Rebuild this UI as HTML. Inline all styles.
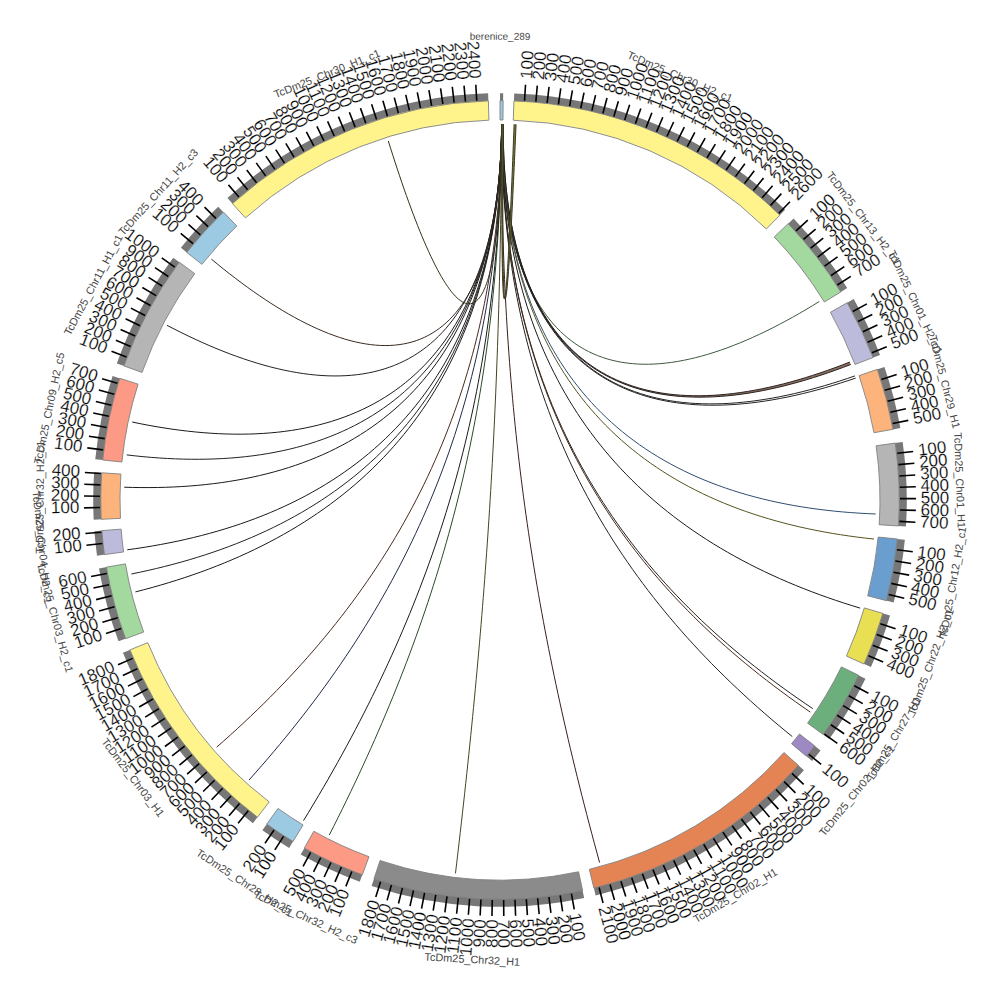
<!DOCTYPE html><html><head><meta charset="utf-8"><style>html,body{margin:0;padding:0;background:#fff;width:1000px;height:1000px;overflow:hidden}svg{display:block}text{font-family:"Liberation Sans",sans-serif}</style></head><body>
<svg width="1000" height="1000" viewBox="0 0 1000 1000">
<rect width="1000" height="1000" fill="#fff"/>
<g fill="none" stroke-width="1.0"><path d="M501.64 124 501.65 131.84 501.75 139.63 501.94 147.36 502.22 155.03 502.6 162.64 503.07 170.17 503.64 177.63 504.32 185 505.09 192.28 505.97 199.47 506.95 206.55 508.04 213.53 509.24 220.39 510.54 227.14 511.96 233.77 513.48 240.27 515.12 246.64 516.86 252.88 518.73 258.97 520.7 264.93 522.79 270.74 524.99 276.4 527.31 281.9 529.74 287.25 532.29 292.43 534.95 297.46 537.73 302.31 540.62 307 543.63 311.51 546.76 315.85 550 320.02 553.35 324 556.82 327.81 560.4 331.43 564.09 334.87 567.9 338.12 571.82 341.18 575.84 344.06 579.98 346.75 584.22 349.24 588.57 351.55 593.03 353.66 597.59 355.58 602.25 357.31 607.01 358.84 611.88 360.19 616.84 361.34 621.9 362.3 627.05 363.06 632.29 363.64 637.63 364.02 643.05 364.22 648.56 364.23 654.15 364.05 659.82 363.68 665.58 363.13 671.4 362.4 677.31 361.49 683.28 360.4 689.32 359.13 695.43 357.69 701.59 356.08 707.82 354.3 714.1 352.35 720.44 350.24 726.83 347.97 733.26 345.54 739.73 342.96 746.24 340.23 752.79 337.35 759.37 334.33 765.97 331.17 772.6 327.88 779.25 324.46 785.91 320.92 792.59 317.25 799.27 313.47 805.96 309.57 812.64 305.57 819.32 301.47" stroke="#3d5a3d"/><path d="M501.64 124 501.65 131.99 501.76 139.94 501.97 147.84 502.29 155.69 502.7 163.48 503.23 171.21 503.86 178.87 504.59 186.46 505.44 193.97 506.41 201.4 507.48 208.74 508.68 215.99 509.98 223.14 511.41 230.19 512.96 237.14 514.62 243.97 516.41 250.69 518.32 257.3 520.35 263.78 522.5 270.14 524.78 276.37 527.19 282.47 529.71 288.44 532.37 294.27 535.14 299.96 538.05 305.5 541.08 310.9 544.23 316.15 547.51 321.25 550.92 326.19 554.45 330.99 558.11 335.62 561.89 340.09 565.79 344.4 569.82 348.55 573.96 352.54 578.23 356.36 582.63 360.01 587.14 363.49 591.76 366.81 596.51 369.95 601.37 372.92 606.35 375.73 611.44 378.35 616.64 380.81 621.95 383.1 627.37 385.21 632.9 387.14 638.53 388.91 644.26 390.5 650.1 391.92 656.03 393.17 662.06 394.25 668.18 395.16 674.4 395.9 680.7 396.47 687.09 396.87 693.57 397.1 700.13 397.18 706.76 397.09 713.47 396.83 720.25 396.42 727.1 395.85 734.02 395.13 741 394.25 748.04 393.22 755.14 392.04 762.29 390.72 769.48 389.25 776.73 387.64 784.01 385.89 791.33 384.01 798.68 382 806.07 379.86 813.48 377.59 820.91 375.2 828.35 372.7 835.81 370.08 843.27 367.35 850.74 364.52 849.79 362.07 842.35 364.96 834.91 367.73 827.48 370.4 820.07 372.95 812.67 375.39 805.29 377.7 797.93 379.9 790.61 381.96 783.31 383.89 776.06 385.68 768.84 387.34 761.67 388.86 754.55 390.23 747.49 391.46 740.48 392.54 733.52 393.46 726.63 394.23 719.81 394.85 713.06 395.31 706.38 395.61 699.77 395.74 693.24 395.72 686.8 395.52 680.43 395.16 674.16 394.64 667.97 393.94 661.88 393.07 655.88 392.04 649.98 390.83 644.17 389.45 638.47 387.89 632.87 386.17 627.37 384.27 621.98 382.19 616.7 379.94 611.53 377.52 606.48 374.93 601.53 372.16 596.7 369.22 591.99 366.11 587.39 362.82 582.92 359.37 578.56 355.75 574.32 351.96 570.21 348 566.21 343.88 562.34 339.59 558.6 335.14 554.98 330.53 551.48 325.77 548.11 320.85 544.86 315.77 541.74 310.54 538.75 305.16 535.88 299.64 533.14 293.97 530.52 288.16 528.03 282.21 525.66 276.13 523.42 269.91 521.3 263.57 519.31 257.1 517.44 250.51 515.69 243.8 514.06 236.98 512.55 230.05 511.16 223.01 509.88 215.87 508.73 208.64 507.69 201.31 506.76 193.89 505.95 186.39 505.25 178.81 504.65 171.16 504.17 163.44 503.79 155.66 503.51 147.82 503.33 139.93 503.26 131.99 503.28 124.01Z" fill="#8a7060" stroke="none"/><path d="M501.64 124 501.65 131.99 501.76 139.94 501.97 147.84 502.29 155.69 502.7 163.48 503.23 171.21 503.86 178.87 504.59 186.46 505.44 193.97 506.41 201.4 507.48 208.74 508.68 215.99 509.98 223.14 511.41 230.19 512.96 237.14 514.62 243.97 516.41 250.69 518.32 257.3 520.35 263.78 522.5 270.14 524.78 276.37 527.19 282.47 529.71 288.44 532.37 294.27 535.14 299.96 538.05 305.5 541.08 310.9 544.23 316.15 547.51 321.25 550.92 326.19 554.45 330.99 558.11 335.62 561.89 340.09 565.79 344.4 569.82 348.55 573.96 352.54 578.23 356.36 582.63 360.01 587.14 363.49 591.76 366.81 596.51 369.95 601.37 372.92 606.35 375.73 611.44 378.35 616.64 380.81 621.95 383.1 627.37 385.21 632.9 387.14 638.53 388.91 644.26 390.5 650.1 391.92 656.03 393.17 662.06 394.25 668.18 395.16 674.4 395.9 680.7 396.47 687.09 396.87 693.57 397.1 700.13 397.18 706.76 397.09 713.47 396.83 720.25 396.42 727.1 395.85 734.02 395.13 741 394.25 748.04 393.22 755.14 392.04 762.29 390.72 769.48 389.25 776.73 387.64 784.01 385.89 791.33 384.01 798.68 382 806.07 379.86 813.48 377.59 820.91 375.2 828.35 372.7 835.81 370.08 843.27 367.35 850.74 364.52" stroke="#2a2220"/><path d="M503.28 124.01 503.26 131.99 503.33 139.93 503.51 147.82 503.79 155.66 504.17 163.44 504.65 171.16 505.25 178.81 505.95 186.39 506.76 193.89 507.69 201.31 508.73 208.64 509.88 215.87 511.16 223.01 512.55 230.05 514.06 236.98 515.69 243.8 517.44 250.51 519.31 257.1 521.3 263.57 523.42 269.91 525.66 276.13 528.03 282.21 530.52 288.16 533.14 293.97 535.88 299.64 538.75 305.16 541.74 310.54 544.86 315.77 548.11 320.85 551.48 325.77 554.98 330.53 558.6 335.14 562.34 339.59 566.21 343.88 570.21 348 574.32 351.96 578.56 355.75 582.92 359.37 587.39 362.82 591.99 366.11 596.7 369.22 601.53 372.16 606.48 374.93 611.53 377.52 616.7 379.94 621.98 382.19 627.37 384.27 632.87 386.17 638.47 387.89 644.17 389.45 649.98 390.83 655.88 392.04 661.88 393.07 667.97 393.94 674.16 394.64 680.43 395.16 686.8 395.52 693.24 395.72 699.77 395.74 706.38 395.61 713.06 395.31 719.81 394.85 726.63 394.23 733.52 393.46 740.48 392.54 747.49 391.46 754.55 390.23 761.67 388.86 768.84 387.34 776.06 385.68 783.31 383.89 790.61 381.96 797.93 379.9 805.29 377.7 812.67 375.39 820.07 372.95 827.48 370.4 834.91 367.73 842.35 364.96 849.79 362.07" stroke="#2a2220"/><path d="M501.64 124 501.65 132.03 501.77 140.01 501.98 147.95 502.3 155.84 502.72 163.67 503.25 171.44 503.89 179.15 504.64 186.78 505.5 194.34 506.47 201.82 507.56 209.22 508.77 216.53 510.1 223.74 511.54 230.85 513.11 237.87 514.8 244.77 516.61 251.57 518.54 258.26 520.59 264.82 522.78 271.27 525.08 277.59 527.52 283.78 530.08 289.85 532.76 295.78 535.57 301.57 538.51 307.23 541.58 312.74 544.77 318.11 548.1 323.34 551.54 328.41 555.12 333.34 558.82 338.11 562.64 342.72 566.6 347.18 570.67 351.48 574.87 355.62 579.19 359.6 583.64 363.42 588.21 367.07 592.89 370.56 597.7 373.88 602.62 377.04 607.66 380.03 612.81 382.85 618.08 385.5 623.46 387.99 628.95 390.3 634.55 392.45 640.25 394.43 646.06 396.24 651.97 397.88 657.98 399.36 664.09 400.66 670.3 401.8 676.6 402.78 682.99 403.59 689.47 404.23 696.03 404.72 702.68 405.04 709.4 405.2 716.21 405.2 723.09 405.05 730.04 404.74 737.06 404.28 744.14 403.67 751.29 402.91 758.49 402 765.75 400.94 773.06 399.75 780.41 398.42 787.81 396.95 795.25 395.34 802.72 393.61 810.23 391.74 817.76 389.76 825.32 387.65 832.89 385.43 840.48 383.09 848.08 380.64 855.69 378.08" stroke="#222"/><path d="M503.28 124.01 503.26 132.03 503.34 140 503.52 147.93 503.8 155.81 504.18 163.63 504.68 171.4 505.28 179.09 505.99 186.72 506.82 194.27 507.76 201.74 508.81 209.12 509.98 216.42 511.27 223.62 512.68 230.72 514.21 237.73 515.86 244.62 517.64 251.4 519.54 258.08 521.56 264.63 523.7 271.06 525.98 277.37 528.37 283.55 530.9 289.6 533.55 295.51 536.33 301.29 539.24 306.93 542.27 312.42 545.43 317.77 548.72 322.98 552.13 328.03 555.67 332.93 559.34 337.68 563.14 342.28 567.06 346.71 571.1 350.99 575.27 355.1 579.56 359.06 583.97 362.85 588.51 366.48 593.17 369.94 597.94 373.23 602.84 376.36 607.85 379.32 612.97 382.11 618.21 384.73 623.56 387.19 629.02 389.47 634.59 391.58 640.27 393.53 646.05 395.31 651.93 396.91 657.92 398.35 664 399.62 670.18 400.73 676.45 401.66 682.82 402.43 689.27 403.04 695.81 403.49 702.43 403.77 709.14 403.89 715.92 403.85 722.77 403.66 729.7 403.31 736.69 402.81 743.75 402.15 750.87 401.35 758.05 400.39 765.29 399.3 772.57 398.06 779.9 396.68 787.28 395.17 794.69 393.52 802.14 391.74 809.62 389.84 817.13 387.81 824.66 385.65 832.22 383.39 839.78 381 847.35 378.51 854.93 375.91" stroke="#222"/><path d="M501.64 124 501.66 132.4 501.77 140.76 502 149.09 502.33 157.39 502.78 165.65 503.33 173.87 504 182.04 504.79 190.16 505.69 198.23 506.71 206.25 507.84 214.2 509.1 222.1 510.48 229.93 511.99 237.69 513.62 245.38 515.37 252.99 517.25 260.53 519.25 267.99 521.39 275.37 523.65 282.67 526.04 289.88 528.56 297 531.21 304.02 534 310.96 536.91 317.8 539.95 324.54 543.13 331.18 546.43 337.72 549.87 344.16 553.44 350.49 557.14 356.71 560.97 362.82 564.93 368.83 569.02 374.72 573.24 380.5 577.59 386.16 582.07 391.71 586.68 397.14 591.41 402.45 596.27 407.65 601.26 412.72 606.37 417.67 611.61 422.5 616.96 427.2 622.44 431.78 628.04 436.24 633.76 440.57 639.59 444.78 645.54 448.86 651.6 452.82 657.78 456.64 664.07 460.35 670.47 463.92 676.97 467.37 683.58 470.69 690.29 473.88 697.1 476.95 704.02 479.89 711.02 482.71 718.13 485.39 725.32 487.96 732.61 490.4 739.98 492.71 747.43 494.9 754.97 496.97 762.59 498.92 770.28 500.74 778.04 502.45 785.88 504.03 793.78 505.5 801.74 506.85 809.77 508.08 817.85 509.21 825.99 510.21 834.18 511.11 842.41 511.9 850.69 512.57 859 513.15 867.36 513.61 875.74 513.97" stroke="#2e4d6e"/><path d="M501.64 124 501.65 132.47 501.77 140.91 502 149.32 502.33 157.7 502.77 166.05 503.32 174.35 503.98 182.61 504.76 190.83 505.66 198.99 506.67 207.11 507.8 215.17 509.05 223.17 510.42 231.11 511.91 238.99 513.52 246.81 515.26 254.55 517.12 262.23 519.11 269.83 521.23 277.36 523.47 284.8 525.84 292.17 528.34 299.46 530.97 306.66 533.73 313.77 536.61 320.8 539.63 327.73 542.77 334.58 546.05 341.32 549.46 347.98 552.99 354.53 556.66 360.99 560.45 367.34 564.38 373.59 568.43 379.74 572.62 385.78 576.93 391.72 581.37 397.55 585.94 403.27 590.63 408.88 595.45 414.37 600.39 419.76 605.46 425.03 610.65 430.19 615.97 435.24 621.4 440.16 626.96 444.98 632.63 449.67 638.42 454.25 644.33 458.71 650.35 463.06 656.48 467.28 662.73 471.39 669.08 475.37 675.54 479.24 682.11 482.99 688.78 486.62 695.56 490.13 702.43 493.52 709.4 496.79 716.47 499.94 723.63 502.98 730.89 505.9 738.23 508.7 745.66 511.38 753.17 513.95 760.76 516.4 768.44 518.73 776.18 520.95 784 523.06 791.9 525.05 799.85 526.94 807.88 528.71 815.96 530.37 824.1 531.93 832.29 533.37 840.54 534.71 848.83 535.95 857.17 537.08 865.55 538.11 873.97 539.04" stroke="#55531e"/><path d="M501.64 124 501.65 132.69 501.76 141.36 501.98 150 502.29 158.61 502.71 167.2 503.24 175.75 503.87 184.26 504.62 192.74 505.47 201.18 506.43 209.57 507.51 217.93 508.7 226.23 510.01 234.49 511.43 242.7 512.96 250.85 514.62 258.95 516.39 266.99 518.29 274.98 520.3 282.91 522.43 290.77 524.69 298.57 527.06 306.3 529.56 313.97 532.18 321.57 534.92 329.1 537.79 336.56 540.78 343.95 543.89 351.26 547.13 358.49 550.49 365.65 553.97 372.73 557.58 379.73 561.31 386.65 565.17 393.48 569.14 400.23 573.25 406.9 577.47 413.49 581.81 419.98 586.28 426.39 590.87 432.71 595.57 438.94 600.4 445.09 605.35 451.14 610.41 457.1 615.6 462.96 620.9 468.74 626.31 474.42 631.84 480.01 637.48 485.5 643.24 490.9 649.1 496.2 655.08 501.41 661.16 506.52 667.35 511.53 673.65 516.45 680.05 521.27 686.56 525.99 693.17 530.62 699.87 535.15 706.67 539.58 713.57 543.91 720.57 548.15 727.65 552.29 734.83 556.33 742.1 560.28 749.45 564.13 756.88 567.88 764.4 571.54 772 575.1 779.67 578.57 787.42 581.94 795.24 585.21 803.13 588.4 811.09 591.49 819.12 594.49 827.21 597.39 835.35 600.21 843.56 602.93 851.81 605.56 860.12 608.11" stroke="#1a1a1a"/><path d="M501.64 124 501.64 133.07 501.73 142.12 501.91 151.15 502.18 160.14 502.53 169.12 502.98 178.06 503.52 186.98 504.15 195.86 504.88 204.72 505.7 213.54 506.62 222.33 507.63 231.09 508.74 239.81 509.95 248.49 511.26 257.14 512.66 265.75 514.17 274.32 515.78 282.85 517.49 291.34 519.3 299.79 521.21 308.19 523.23 316.55 525.34 324.87 527.57 333.14 529.89 341.37 532.32 349.55 534.86 357.68 537.5 365.77 540.24 373.81 543.09 381.79 546.05 389.73 549.11 397.62 552.28 405.45 555.55 413.23 558.92 420.96 562.41 428.64 566 436.26 569.69 443.83 573.49 451.35 577.39 458.81 581.4 466.21 585.51 473.56 589.73 480.85 594.05 488.08 598.47 495.26 603 502.38 607.62 509.44 612.36 516.44 617.19 523.38 622.12 530.27 627.16 537.09 632.29 543.86 637.52 550.56 642.85 557.21 648.28 563.79 653.81 570.32 659.43 576.78 665.14 583.18 670.95 589.53 676.86 595.81 682.86 602.03 688.94 608.18 695.12 614.28 701.39 620.32 707.75 626.29 714.19 632.21 720.72 638.06 727.33 643.85 734.03 649.58 740.81 655.25 747.67 660.86 754.61 666.41 761.63 671.89 768.72 677.32 775.89 682.69 783.14 687.99 790.45 693.24 797.84 698.43 805.29 703.55 812.81 708.62" stroke="#222"/><path d="M501.64 124 501.64 133.09 501.73 142.15 501.91 151.19 502.17 160.2 502.53 169.19 502.97 178.15 503.5 187.08 504.13 195.98 504.85 204.85 505.66 213.69 506.57 222.5 507.58 231.27 508.68 240.01 509.88 248.71 511.17 257.37 512.57 266 514.06 274.59 515.65 283.14 517.35 291.65 519.14 300.11 521.04 308.54 523.04 316.92 525.14 325.26 527.34 333.56 529.65 341.81 532.06 350.01 534.57 358.17 537.19 366.28 539.91 374.35 542.74 382.36 545.67 390.33 548.7 398.24 551.84 406.11 555.08 413.92 558.43 421.69 561.88 429.4 565.44 437.06 569.1 444.66 572.87 452.21 576.74 459.71 580.71 467.15 584.79 474.54 588.97 481.88 593.26 489.15 597.64 496.37 602.13 503.54 606.72 510.64 611.41 517.69 616.21 524.69 621.1 531.62 626.09 538.5 631.18 545.32 636.37 552.08 641.66 558.78 647.05 565.42 652.53 572.01 658.11 578.53 663.78 584.99 669.54 591.4 675.4 597.75 681.36 604.03 687.4 610.26 693.53 616.42 699.75 622.53 706.06 628.58 712.46 634.57 718.94 640.49 725.51 646.36 732.16 652.17 738.89 657.92 745.7 663.61 752.59 669.23 759.56 674.81 766.61 680.32 773.73 685.77 780.93 691.16 788.2 696.5 795.54 701.78 802.95 707 810.43 712.16" stroke="#4a2a1a"/><path d="M501.64 124 501.64 133.2 501.72 142.37 501.88 151.52 502.13 160.64 502.46 169.73 502.87 178.79 503.37 187.83 503.96 196.84 504.63 205.82 505.39 214.77 506.24 223.68 507.18 232.57 508.21 241.42 509.33 250.24 510.54 259.02 511.85 267.77 513.24 276.49 514.73 285.17 516.31 293.81 517.99 302.41 519.77 310.98 521.63 319.51 523.6 328 525.65 336.45 527.81 344.86 530.06 353.23 532.41 361.56 534.86 369.85 537.4 378.09 540.04 386.3 542.78 394.46 545.62 402.58 548.55 410.65 551.58 418.68 554.71 426.67 557.94 434.61 561.27 442.51 564.69 450.36 568.22 458.16 571.84 465.92 575.56 473.63 579.37 481.3 583.29 488.92 587.3 496.49 591.41 504.01 595.61 511.49 599.91 518.92 604.31 526.3 608.8 533.63 613.39 540.91 618.07 548.15 622.85 555.33 627.72 562.47 632.69 569.56 637.75 576.6 642.9 583.59 648.14 590.53 653.47 597.42 658.9 604.26 664.41 611.05 670.02 617.79 675.71 624.49 681.49 631.13 687.35 637.73 693.31 644.27 699.34 650.77 705.46 657.21 711.67 663.61 717.96 669.96 724.32 676.25 730.77 682.5 737.3 688.7 743.91 694.86 750.59 700.96 757.35 707.02 764.19 713.02 771.09 718.98 778.07 724.89 785.13 730.76 792.25 736.57" stroke="#222"/><path d="M501.64 124 501.61 134.09 501.61 144.12 501.63 154.09 501.69 164.01 501.77 173.88 501.88 183.7 502.02 193.47 502.19 203.19 502.38 212.87 502.61 222.5 502.86 232.08 503.15 241.63 503.46 251.13 503.8 260.59 504.17 270.02 504.57 279.4 505.01 288.75 505.47 298.07 505.96 307.35 506.48 316.6 507.03 325.82 507.62 335.01 508.23 344.17 508.88 353.3 509.55 362.41 510.26 371.5 511 380.56 511.77 389.6 512.57 398.62 513.4 407.62 514.27 416.6 515.17 425.57 516.1 434.52 517.06 443.46 518.05 452.39 519.08 461.3 520.14 470.21 521.24 479.11 522.37 488 523.53 496.88 524.72 505.76 525.95 514.64 527.21 523.51 528.51 532.39 529.84 541.26 531.21 550.14 532.61 559.02 534.04 567.9 535.51 576.79 537.02 585.69 538.56 594.6 540.14 603.52 541.75 612.45 543.4 621.39 545.09 630.34 546.81 639.31 548.57 648.3 550.36 657.3 552.2 666.33 554.07 675.37 555.97 684.44 557.92 693.53 559.9 702.64 561.92 711.78 563.98 720.95 566.08 730.14 568.21 739.36 570.39 748.62 572.6 757.91 574.86 767.23 577.15 776.58 579.48 785.98 581.85 795.4 584.27 804.87 586.72 814.38 589.21 823.93 591.75 833.52 594.32 843.16 596.94 852.84 599.6 862.57" stroke="#3a1f1a"/><path d="M501.64 124 501.59 134.32 501.53 144.57 501.45 154.75 501.37 164.86 501.27 174.91 501.16 184.89 501.04 194.81 500.91 204.67 500.77 214.48 500.61 224.22 500.45 233.92 500.27 243.56 500.08 253.15 499.88 262.69 499.66 272.18 499.44 281.63 499.2 291.04 498.95 300.4 498.68 309.72 498.41 319.01 498.12 328.25 497.82 337.47 497.51 346.65 497.18 355.8 496.84 364.92 496.49 374.01 496.13 383.07 495.75 392.12 495.36 401.14 494.95 410.14 494.54 419.12 494.11 428.08 493.66 437.03 493.21 445.96 492.73 454.89 492.25 463.8 491.75 472.71 491.24 481.61 490.71 490.5 490.17 499.39 489.62 508.29 489.05 517.18 488.46 526.07 487.87 534.97 487.25 543.88 486.62 552.79 485.98 561.72 485.32 570.65 484.65 579.6 483.96 588.57 483.26 597.55 482.54 606.55 481.8 615.57 481.05 624.61 480.29 633.67 479.5 642.77 478.7 651.89 477.89 661.04 477.05 670.22 476.2 679.43 475.34 688.68 474.46 697.96 473.56 707.28 472.64 716.65 471.7 726.05 470.75 735.5 469.78 744.99 468.79 754.54 467.79 764.13 466.76 773.77 465.72 783.46 464.66 793.21 463.58 803.01 462.48 812.87 461.36 822.79 460.22 832.78 459.07 842.82 457.89 852.93 456.7 863.11 455.48 873.36" stroke="#45451f"/><path d="M501.64 124 501.57 133.8 501.46 143.56 501.3 153.28 501.1 162.96 500.85 172.59 500.55 182.19 500.2 191.75 499.8 201.27 499.36 210.75 498.87 220.2 498.32 229.61 497.73 238.99 497.09 248.33 496.4 257.64 495.66 266.92 494.87 276.16 494.03 285.38 493.13 294.56 492.19 303.71 491.19 312.83 490.14 321.93 489.04 331 487.89 340.04 486.68 349.05 485.43 358.04 484.12 367.01 482.75 375.95 481.33 384.86 479.86 393.76 478.33 402.63 476.75 411.48 475.12 420.31 473.43 429.12 471.69 437.92 469.89 446.69 468.03 455.45 466.12 464.19 464.16 472.91 462.13 481.62 460.06 490.32 457.92 499 455.73 507.67 453.48 516.33 451.18 524.97 448.82 533.6 446.4 542.23 443.93 550.85 441.39 559.45 438.8 568.05 436.16 576.64 433.45 585.23 430.69 593.81 427.86 602.39 424.98 610.96 422.04 619.53 419.05 628.1 415.99 636.66 412.88 645.23 409.7 653.79 406.47 662.36 403.18 670.93 399.83 679.5 396.42 688.07 392.95 696.65 389.42 705.23 385.83 713.81 382.18 722.41 378.47 731.01 374.71 739.61 370.88 748.23 366.99 756.85 363.04 765.49 359.04 774.13 354.97 782.79 350.84 791.46 346.65 800.14 342.41 808.84 338.1 817.55 333.73 826.28 329.3 835.02" stroke="#2a4a2a"/><path d="M501.64 124 501.57 133.69 501.45 143.34 501.27 152.95 501.04 162.53 500.76 172.07 500.42 181.57 500.02 191.04 499.57 200.47 499.07 209.87 498.5 219.24 497.88 228.57 497.2 237.87 496.47 247.13 495.67 256.37 494.82 265.57 493.91 274.74 492.94 283.88 491.91 292.99 490.82 302.07 489.67 311.13 488.46 320.15 487.19 329.15 485.86 338.11 484.47 347.05 483.02 355.97 481.5 364.86 479.92 373.72 478.28 382.56 476.58 391.37 474.82 400.16 472.99 408.92 471.1 417.66 469.14 426.38 467.12 435.08 465.04 443.75 462.9 452.41 460.69 461.04 458.41 469.66 456.07 478.25 453.67 486.82 451.2 495.38 448.67 503.92 446.07 512.44 443.41 520.95 440.68 529.43 437.88 537.91 435.02 546.36 432.1 554.81 429.1 563.23 426.05 571.65 422.92 580.05 419.73 588.44 416.48 596.82 413.15 605.18 409.77 613.54 406.31 621.89 402.79 630.22 399.2 638.55 395.55 646.86 391.83 655.17 388.04 663.48 384.19 671.77 380.27 680.06 376.29 688.35 372.24 696.62 368.12 704.9 363.93 713.17 359.68 721.43 355.37 729.7 350.98 737.96 346.54 746.22 342.02 754.48 337.44 762.74 332.79 771 328.08 779.26 323.3 787.52 318.46 795.78 313.55 804.05 308.58 812.32 303.54 820.59" stroke="#1a1a1a"/><path d="M501.64 124 501.57 133.43 501.42 142.83 501.21 152.2 500.93 161.54 500.57 170.85 500.15 180.13 499.65 189.38 499.08 198.59 498.44 207.78 497.73 216.94 496.94 226.06 496.07 235.16 495.13 244.22 494.12 253.25 493.02 262.25 491.85 271.22 490.61 280.16 489.28 289.06 487.88 297.93 486.4 306.78 484.84 315.58 483.21 324.36 481.49 333.11 479.69 341.82 477.81 350.5 475.85 359.15 473.81 367.76 471.69 376.35 469.49 384.9 467.21 393.42 464.84 401.9 462.39 410.36 459.86 418.78 457.25 427.17 454.55 435.53 451.78 443.85 448.92 452.15 445.97 460.41 442.95 468.64 439.84 476.83 436.65 485 433.37 493.13 430.02 501.23 426.58 509.3 423.05 517.34 419.44 525.35 415.76 533.32 411.98 541.27 408.13 549.18 404.19 557.06 400.17 564.91 396.07 572.73 391.89 580.52 387.62 588.28 383.27 596.01 378.85 603.71 374.34 611.38 369.74 619.01 365.07 626.62 360.32 634.2 355.49 641.75 350.58 649.28 345.59 656.77 340.52 664.23 335.37 671.67 330.14 679.08 324.84 686.46 319.46 693.81 314 701.14 308.47 708.43 302.86 715.71 297.17 722.95 291.41 730.17 285.58 737.36 279.67 744.53 273.69 751.67 267.63 758.79 261.51 765.88 255.31 772.95 249.04 779.99" stroke="#1f2a4a"/><path d="M501.64 124 501.56 133.26 501.41 142.49 501.17 151.7 500.86 160.88 500.46 170.02 499.99 179.15 499.43 188.24 498.79 197.3 498.06 206.33 497.26 215.33 496.37 224.3 495.39 233.24 494.32 242.15 493.17 251.02 491.93 259.86 490.61 268.66 489.19 277.43 487.69 286.16 486.1 294.86 484.41 303.53 482.64 312.15 480.78 320.74 478.82 329.29 476.78 337.81 474.64 346.28 472.41 354.72 470.08 363.12 467.67 371.48 465.16 379.8 462.55 388.08 459.86 396.32 457.07 404.52 454.19 412.68 451.21 420.8 448.14 428.87 444.97 436.9 441.72 444.9 438.36 452.85 434.92 460.75 431.38 468.62 427.74 476.44 424.02 484.22 420.2 491.95 416.28 499.65 412.28 507.3 408.17 514.9 403.98 522.46 399.7 529.98 395.32 537.45 390.85 544.88 386.29 552.26 381.64 559.6 376.89 566.9 372.06 574.15 367.14 581.36 362.12 588.52 357.02 595.64 351.83 602.71 346.55 609.74 341.19 616.72 335.74 623.66 330.2 630.56 324.57 637.41 318.87 644.21 313.07 650.97 307.2 657.69 301.24 664.36 295.2 670.99 289.08 677.58 282.88 684.12 276.6 690.62 270.24 697.07 263.8 703.49 257.29 709.85 250.7 716.18 244.04 722.46 237.3 728.7 230.49 734.9 223.61 741.06 216.66 747.17" stroke="#4a2a1f"/><path d="M501.64 124 501.55 132.65 501.36 141.27 501.07 149.86 500.68 158.43 500.18 166.96 499.57 175.46 498.86 183.92 498.03 192.34 497.1 200.72 496.05 209.05 494.88 217.34 493.61 225.58 492.21 233.76 490.71 241.89 489.08 249.97 487.33 257.99 485.47 265.95 483.48 273.84 481.37 281.68 479.15 289.44 476.8 297.14 474.32 304.77 471.73 312.33 469.01 319.82 466.17 327.23 463.2 334.57 460.11 341.82 456.89 349 453.55 356.1 450.09 363.12 446.5 370.05 442.78 376.9 438.94 383.66 434.98 390.33 430.9 396.92 426.69 403.41 422.35 409.82 417.9 416.13 413.32 422.35 408.62 428.48 403.8 434.51 398.87 440.45 393.81 446.29 388.63 452.04 383.34 457.68 377.92 463.23 372.4 468.68 366.76 474.03 361 479.28 355.13 484.43 349.16 489.48 343.07 494.43 336.87 499.27 330.57 504.02 324.16 508.66 317.65 513.2 311.04 517.64 304.32 521.97 297.51 526.21 290.6 530.34 283.6 534.37 276.5 538.29 269.31 542.12 262.03 545.84 254.67 549.46 247.22 552.98 239.69 556.4 232.08 559.72 224.39 562.94 216.62 566.06 208.78 569.08 200.88 572 192.9 574.82 184.86 577.55 176.76 580.18 168.59 582.71 160.38 585.16 152.1 587.5 143.78 589.76 135.41 591.92" stroke="#1a1a1a"/><path d="M501.64 124 501.55 132.59 501.36 141.15 501.07 149.69 500.67 158.19 500.17 166.66 499.55 175.09 498.83 183.49 497.99 191.84 497.04 200.14 495.98 208.4 494.81 216.62 493.51 224.77 492.1 232.88 490.57 240.93 488.92 248.91 487.15 256.84 485.26 264.7 483.25 272.5 481.11 280.23 478.85 287.89 476.47 295.48 473.96 302.99 471.33 310.43 468.57 317.79 465.69 325.07 462.68 332.27 459.54 339.39 456.28 346.43 452.89 353.37 449.37 360.23 445.73 367 441.96 373.69 438.07 380.28 434.05 386.77 429.91 393.17 425.64 399.48 421.24 405.69 416.72 411.81 412.08 417.82 407.32 423.73 402.43 429.55 397.42 435.26 392.29 440.87 387.05 446.38 381.68 451.78 376.19 457.08 370.59 462.28 364.88 467.37 359.05 472.35 353.1 477.23 347.05 482 340.88 486.66 334.61 491.22 328.23 495.67 321.74 500.01 315.15 504.24 308.46 508.36 301.67 512.38 294.77 516.28 287.79 520.08 280.71 523.78 273.53 527.36 266.27 530.84 258.92 534.21 251.48 537.47 243.96 540.62 236.35 543.68 228.67 546.62 220.92 549.46 213.09 552.2 205.18 554.83 197.22 557.36 189.18 559.79 181.08 562.11 172.93 564.34 164.71 566.46 156.45 568.49 148.13 570.42 139.76 572.26 131.35 574" stroke="#222"/><path d="M501.64 124 501.55 132.51 501.36 141 501.07 149.45 500.66 157.87 500.15 166.26 499.53 174.61 498.8 182.91 497.95 191.17 496.99 199.39 495.92 207.55 494.72 215.66 493.41 223.71 491.98 231.7 490.43 239.64 488.76 247.51 486.96 255.31 485.04 263.04 483 270.7 480.84 278.29 478.54 285.81 476.12 293.24 473.58 300.6 470.91 307.87 468.11 315.06 465.18 322.17 462.12 329.18 458.94 336.11 455.62 342.95 452.18 349.69 448.62 356.34 444.92 362.89 441.09 369.34 437.14 375.69 433.06 381.95 428.85 388.1 424.52 394.15 420.06 400.09 415.47 405.93 410.76 411.67 405.92 417.29 400.96 422.81 395.88 428.22 390.68 433.51 385.35 438.7 379.91 443.77 374.35 448.73 368.67 453.58 362.87 458.32 356.96 462.94 350.94 467.44 344.8 471.83 338.55 476.11 332.2 480.27 325.74 484.32 319.17 488.25 312.5 492.06 305.73 495.76 298.86 499.34 291.89 502.81 284.82 506.16 277.67 509.39 270.42 512.52 263.08 515.52 255.65 518.42 248.15 521.2 240.56 523.86 232.89 526.42 225.14 528.86 217.32 531.19 209.43 533.41 201.48 535.53 193.46 537.53 185.37 539.43 177.23 541.22 169.03 542.9 160.78 544.48 152.48 545.96 144.13 547.34 135.74 548.62 127.31 549.79" stroke="#1a1a1a"/><path d="M501.64 124 501.55 132.33 501.36 140.62 501.06 148.88 500.66 157.1 500.14 165.28 499.51 173.41 498.77 181.49 497.92 189.52 496.94 197.5 495.85 205.41 494.64 213.26 493.31 221.04 491.86 228.75 490.28 236.38 488.58 243.94 486.76 251.42 484.81 258.82 482.73 266.13 480.52 273.35 478.19 280.48 475.73 287.52 473.14 294.46 470.41 301.3 467.56 308.04 464.58 314.67 461.46 321.2 458.22 327.63 454.84 333.94 451.34 340.14 447.7 346.23 443.93 352.2 440.04 358.05 436.01 363.78 431.85 369.4 427.56 374.89 423.15 380.26 418.61 385.5 413.94 390.62 409.14 395.61 404.22 400.47 399.17 405.2 394 409.8 388.71 414.27 383.29 418.61 377.76 422.82 372.11 426.89 366.34 430.83 360.46 434.63 354.46 438.3 348.35 441.84 342.12 445.24 335.79 448.5 329.36 451.63 322.81 454.63 316.17 457.49 309.42 460.22 302.58 462.81 295.64 465.26 288.6 467.59 281.48 469.78 274.26 471.84 266.96 473.76 259.58 475.56 252.11 477.23 244.57 478.76 236.95 480.17 229.26 481.45 221.5 482.61 213.67 483.64 205.78 484.55 197.84 485.33 189.83 486 181.78 486.55 173.67 486.98 165.52 487.29 157.33 487.49 149.1 487.58 140.83 487.56 132.54 487.44 124.22 487.21" stroke="#1a1a1a"/><path d="M501.64 124 501.55 132.24 501.36 140.44 501.07 148.6 500.66 156.72 500.15 164.8 499.52 172.82 498.79 180.79 497.93 188.71 496.97 196.56 495.88 204.34 494.67 212.05 493.35 219.69 491.9 227.26 490.33 234.74 488.63 242.14 486.81 249.45 484.86 256.67 482.79 263.8 480.59 270.83 478.26 277.76 475.8 284.58 473.22 291.3 470.5 297.92 467.65 304.42 464.67 310.81 461.56 317.09 458.32 323.24 454.95 329.28 451.45 335.2 447.82 340.99 444.06 346.65 440.17 352.19 436.15 357.6 432 362.87 427.72 368.02 423.31 373.02 418.77 377.9 414.11 382.64 409.33 387.23 404.41 391.69 399.38 396.01 394.22 400.19 388.94 404.23 383.54 408.12 378.02 411.87 372.39 415.48 366.64 418.94 360.77 422.26 354.79 425.43 348.7 428.46 342.51 431.35 336.2 434.08 329.79 436.68 323.28 439.13 316.67 441.43 309.96 443.59 303.15 445.61 296.25 447.48 289.26 449.22 282.18 450.81 275.02 452.26 267.77 453.57 260.44 454.74 253.03 455.77 245.55 456.67 238 457.43 230.38 458.06 222.69 458.56 214.95 458.92 207.14 459.16 199.29 459.27 191.38 459.26 183.42 459.12 175.42 458.86 167.38 458.48 159.3 457.99 151.19 457.38 143.06 456.66 134.9 455.83 126.72 454.89" stroke="#222"/><path d="M501.64 124 501.55 132.15 501.37 140.26 501.07 148.32 500.68 156.35 500.17 164.32 499.55 172.24 498.82 180.1 497.98 187.89 497.02 195.62 495.95 203.27 494.76 210.85 493.44 218.35 492.01 225.76 490.46 233.09 488.78 240.32 486.98 247.46 485.05 254.5 483 261.44 480.82 268.28 478.52 275 476.08 281.61 473.52 288.11 470.83 294.49 468.01 300.75 465.06 306.89 461.98 312.9 458.77 318.78 455.44 324.53 451.97 330.16 448.37 335.64 444.65 340.99 440.79 346.2 436.81 351.27 432.7 356.2 428.46 360.99 424.1 365.63 419.61 370.12 414.99 374.47 410.25 378.66 405.39 382.71 400.41 386.6 395.3 390.35 390.08 393.94 384.74 397.37 379.28 400.66 373.71 403.79 368.02 406.76 362.22 409.58 356.31 412.24 350.29 414.75 344.17 417.11 337.94 419.31 331.61 421.35 325.18 423.24 318.66 424.98 312.04 426.56 305.32 427.99 298.52 429.27 291.62 430.4 284.64 431.38 277.59 432.21 270.45 432.89 263.23 433.43 255.94 433.82 248.58 434.07 241.16 434.18 233.67 434.15 226.12 433.98 218.51 433.67 210.85 433.23 203.14 432.66 195.39 431.96 187.59 431.14 179.76 430.19 171.89 429.11 163.99 427.92 156.06 426.61 148.12 425.19 140.15 423.66 132.18 422.02" stroke="#1a1a1a"/><path d="M501.64 124 501.56 131.9 501.39 139.76 501.12 147.56 500.76 155.3 500.29 162.98 499.73 170.59 499.06 178.13 498.29 185.59 497.42 192.96 496.43 200.24 495.34 207.42 494.14 214.5 492.83 221.48 491.4 228.34 489.87 235.09 488.22 241.72 486.45 248.23 484.57 254.61 482.57 260.85 480.45 266.96 478.22 272.93 475.87 278.76 473.4 284.44 470.81 289.97 468.1 295.34 465.27 300.56 462.32 305.63 459.26 310.53 456.07 315.26 452.77 319.83 449.35 324.24 445.81 328.47 442.16 332.53 438.38 336.41 434.49 340.12 430.49 343.65 426.37 347 422.14 350.17 417.79 353.16 413.33 355.96 408.77 358.59 404.09 361.03 399.31 363.28 394.42 365.35 389.42 367.23 384.33 368.93 379.13 370.45 373.83 371.78 368.43 372.92 362.94 373.88 357.36 374.66 351.68 375.26 345.91 375.67 340.06 375.9 334.12 375.95 328.1 375.83 322.01 375.53 315.83 375.05 309.58 374.4 303.26 373.57 296.87 372.58 290.42 371.42 283.9 370.1 277.33 368.61 270.7 366.97 264.01 365.16 257.28 363.21 250.5 361.1 243.68 358.84 236.83 356.44 229.93 353.9 223.01 351.22 216.06 348.41 209.09 345.47 202.1 342.4 195.1 339.21 188.09 335.91 181.07 332.49 174.05 328.96 167.03 325.34" stroke="#222"/><path d="M501.64 124 501.57 131.75 501.41 139.43 501.18 147.06 500.86 154.63 500.45 162.12 499.95 169.52 499.37 176.85 498.7 184.08 497.93 191.2 497.07 198.23 496.11 205.14 495.06 211.94 493.91 218.61 492.67 225.16 491.32 231.58 489.87 237.85 488.33 243.99 486.68 249.97 484.93 255.81 483.08 261.49 481.12 267.01 479.06 272.37 476.9 277.56 474.63 282.58 472.26 287.42 469.78 292.09 467.2 296.57 464.52 300.87 461.73 304.99 458.84 308.92 455.85 312.65 452.75 316.2 449.55 319.54 446.25 322.69 442.84 325.64 439.34 328.4 435.74 330.94 432.03 333.29 428.23 335.43 424.34 337.37 420.35 339.1 416.26 340.63 412.08 341.95 407.81 343.06 403.45 343.97 399 344.67 394.46 345.17 389.84 345.46 385.14 345.55 380.35 345.44 375.48 345.12 370.54 344.6 365.52 343.88 360.43 342.96 355.26 341.85 350.03 340.55 344.73 339.05 339.37 337.36 333.94 335.48 328.46 333.43 322.92 331.18 317.33 328.76 311.69 326.17 306 323.4 300.27 320.46 294.49 317.36 288.68 314.1 282.84 310.68 276.96 307.1 271.06 303.38 265.13 299.51 259.18 295.51 253.22 291.37 247.24 287.1 241.26 282.7 235.27 278.19 229.27 273.57 223.29 268.83 217.3 264 211.34 259.07" stroke="#3a2a1f"/><path d="M501.64 124 501.59 131.48 501.51 138.9 501.4 146.23 501.26 153.48 501.08 160.64 500.87 167.7 500.62 174.65 500.34 181.48 500.02 188.18 499.66 194.76 499.27 201.19 498.84 207.48 498.37 213.62 497.86 219.59 497.31 225.4 496.73 231.05 496.1 236.51 495.44 241.79 494.73 246.89 493.99 251.79 493.2 256.49 492.38 261 491.51 265.29 490.6 269.38 489.65 273.25 488.66 276.91 487.63 280.34 486.56 283.55 485.45 286.54 484.3 289.29 483.11 291.81 481.88 294.1 480.61 296.15 479.29 297.96 477.94 299.53 476.55 300.86 475.13 301.95 473.66 302.79 472.16 303.39 470.62 303.75 469.04 303.86 467.43 303.73 465.78 303.35 464.09 302.73 462.38 301.86 460.63 300.75 458.84 299.41 457.02 297.82 455.18 295.99 453.3 293.93 451.39 291.64 449.46 289.11 447.49 286.35 445.5 283.37 443.49 280.17 441.44 276.74 439.38 273.1 437.29 269.24 435.18 265.18 433.05 260.91 430.91 256.44 428.74 251.78 426.56 246.92 424.36 241.88 422.15 236.66 419.92 231.26 417.69 225.69 415.44 219.97 413.19 214.08 410.93 208.04 408.66 201.86 406.39 195.54 404.12 189.09 401.85 182.52 399.58 175.84 397.31 169.05 395.05 162.16 392.8 155.17 390.55 148.11 388.31 140.97" stroke="#33331a"/><path d="M514.11 124.26 513.83 131.7 513.54 139.07 513.26 146.36 512.98 153.56 512.7 160.67 512.41 167.67 512.13 174.56 511.85 181.33 511.57 187.97 511.29 194.47 511.01 200.83 510.74 207.04 510.46 213.1 510.19 218.99 509.92 224.71 509.65 230.25 509.38 235.61 509.12 240.79 508.86 245.77 508.6 250.55 508.35 255.13 508.1 259.51 507.85 263.67 507.61 267.62 507.37 271.34 507.13 274.85 506.9 278.12 506.67 281.17 506.45 283.98 506.23 286.56 506.01 288.9 505.8 291 505.6 292.85 505.4 294.47 505.2 295.83 505.01 296.95 504.83 297.82 504.64 298.44 504.47 298.81 504.3 298.93 504.13 298.81 503.98 298.43 503.82 297.8 503.67 296.92 503.53 295.8 503.39 294.42 503.26 292.8 503.14 290.94 503.02 288.84 502.9 286.49 502.79 283.9 502.69 281.08 502.59 278.03 502.5 274.75 502.41 271.24 502.33 267.5 502.26 263.55 502.19 259.38 502.13 255 502.07 250.41 502.02 245.62 501.97 240.63 501.93 235.45 501.89 230.08 501.86 224.53 501.83 218.81 501.81 212.91 501.8 206.85 501.79 200.64 501.78 194.27 501.78 187.76 501.78 181.12 501.79 174.34 501.8 167.45 501.82 160.44 501.84 153.33 501.87 146.12 501.9 138.82 501.93 131.45 501.97 124.01 503.28 124.01 503.22 131.46 503.16 138.83 503.1 146.13 503.05 153.34 503.01 160.45 502.97 167.46 502.93 174.35 502.9 181.12 502.88 187.77 502.86 194.28 502.84 200.65 502.83 206.86 502.83 212.92 502.83 218.82 502.84 224.54 502.86 230.09 502.88 235.46 502.91 240.64 502.94 245.63 502.98 250.42 503.03 255.01 503.08 259.39 503.14 263.56 503.21 267.52 503.28 271.25 503.36 274.76 503.44 278.05 503.54 281.1 503.64 283.92 503.74 286.51 503.86 288.85 503.98 290.96 504.1 292.82 504.24 294.44 504.38 295.82 504.52 296.94 504.68 297.82 504.84 298.45 505 298.83 505.18 298.96 505.36 298.84 505.54 298.47 505.73 297.85 505.93 296.98 506.14 295.86 506.35 294.5 506.56 292.89 506.79 291.03 507.01 288.93 507.25 286.6 507.49 284.02 507.73 281.21 507.98 278.16 508.24 274.89 508.5 271.38 508.76 267.66 509.03 263.71 509.31 259.55 509.59 255.18 509.87 250.6 510.15 245.82 510.44 240.84 510.74 235.66 511.04 230.3 511.34 224.76 511.64 219.04 511.95 213.16 512.26 207.1 512.57 200.9 512.88 194.54 513.2 188.04 513.51 181.4 513.83 174.63 514.15 167.74 514.47 160.74 514.79 153.64 515.11 146.44 515.43 139.15 515.75 131.78 516.07 124.34Z" fill="#7d7a3a" stroke="none"/><path d="M514.11 124.26 513.83 131.7 513.54 139.07 513.26 146.36 512.98 153.56 512.7 160.67 512.41 167.67 512.13 174.56 511.85 181.33 511.57 187.97 511.29 194.47 511.01 200.83 510.74 207.04 510.46 213.1 510.19 218.99 509.92 224.71 509.65 230.25 509.38 235.61 509.12 240.79 508.86 245.77 508.6 250.55 508.35 255.13 508.1 259.51 507.85 263.67 507.61 267.62 507.37 271.34 507.13 274.85 506.9 278.12 506.67 281.17 506.45 283.98 506.23 286.56 506.01 288.9 505.8 291 505.6 292.85 505.4 294.47 505.2 295.83 505.01 296.95 504.83 297.82 504.64 298.44 504.47 298.81 504.3 298.93 504.13 298.81 503.98 298.43 503.82 297.8 503.67 296.92 503.53 295.8 503.39 294.42 503.26 292.8 503.14 290.94 503.02 288.84 502.9 286.49 502.79 283.9 502.69 281.08 502.59 278.03 502.5 274.75 502.41 271.24 502.33 267.5 502.26 263.55 502.19 259.38 502.13 255 502.07 250.41 502.02 245.62 501.97 240.63 501.93 235.45 501.89 230.08 501.86 224.53 501.83 218.81 501.81 212.91 501.8 206.85 501.79 200.64 501.78 194.27 501.78 187.76 501.78 181.12 501.79 174.34 501.8 167.45 501.82 160.44 501.84 153.33 501.87 146.12 501.9 138.82 501.93 131.45 501.97 124.01" stroke="#3a3a20"/><path d="M516.07 124.34 515.75 131.78 515.43 139.15 515.11 146.44 514.79 153.64 514.47 160.74 514.15 167.74 513.83 174.63 513.51 181.4 513.2 188.04 512.88 194.54 512.57 200.9 512.26 207.1 511.95 213.16 511.64 219.04 511.34 224.76 511.04 230.3 510.74 235.66 510.44 240.84 510.15 245.82 509.87 250.6 509.59 255.18 509.31 259.55 509.03 263.71 508.76 267.66 508.5 271.38 508.24 274.89 507.98 278.16 507.73 281.21 507.49 284.02 507.25 286.6 507.01 288.93 506.79 291.03 506.56 292.89 506.35 294.5 506.14 295.86 505.93 296.98 505.73 297.85 505.54 298.47 505.36 298.84 505.18 298.96 505 298.83 504.84 298.45 504.68 297.82 504.52 296.94 504.38 295.82 504.24 294.44 504.1 292.82 503.98 290.96 503.86 288.85 503.74 286.51 503.64 283.92 503.54 281.1 503.44 278.05 503.36 274.76 503.28 271.25 503.21 267.52 503.14 263.56 503.08 259.39 503.03 255.01 502.98 250.42 502.94 245.63 502.91 240.64 502.88 235.46 502.86 230.09 502.84 224.54 502.83 218.82 502.83 212.92 502.83 206.86 502.84 200.65 502.86 194.28 502.88 187.77 502.9 181.12 502.93 174.35 502.97 167.46 503.01 160.45 503.05 153.34 503.1 146.13 503.16 138.83 503.22 131.46 503.28 124.01" stroke="#3a3a20"/></g>
<g><path d="M500 93.2A406.8 406.8 0 0 1 503.19 93.21L503.13 101.21A398.8 398.8 0 0 0 500 101.2Z" fill="#777"/><path d="M500 100.7A399.3 399.3 0 0 1 503.14 100.71L502.98 120.01A380 380 0 0 0 500 120Z" fill="#9dcae3" stroke="#808080" stroke-width="0.9"/><path d="M514.2 93.45A406.8 406.8 0 0 1 785.13 209.85L779.52 215.56A398.8 398.8 0 0 0 513.92 101.44Z" fill="#777"/><path d="M513.94 100.94A399.3 399.3 0 0 1 779.87 215.2L766.35 228.96A380 380 0 0 0 513.26 120.23Z" fill="#fff48c" stroke="#808080" stroke-width="0.9"/><path d="M793.61 218.44A406.8 406.8 0 0 1 847.22 288.05L840.4 292.22A398.8 398.8 0 0 0 787.84 223.97Z" fill="#777"/><path d="M788.2 223.63A399.3 399.3 0 0 1 840.82 291.96L824.35 302.02A380 380 0 0 0 774.27 236.99Z" fill="#a3d89e" stroke="#808080" stroke-width="0.9"/><path d="M853.71 299.06A406.8 406.8 0 0 1 880.03 354.88L872.56 357.73A398.8 398.8 0 0 0 846.75 303.02Z" fill="#777"/><path d="M847.19 302.77A399.3 399.3 0 0 1 873.03 357.55L855 364.44A380 380 0 0 0 830.41 312.3Z" fill="#bcbbdc" stroke="#808080" stroke-width="0.9"/><path d="M884.41 366.89A406.8 406.8 0 0 1 900.37 427.96L892.5 429.38A398.8 398.8 0 0 0 876.85 369.51Z" fill="#777"/><path d="M877.32 369.34A399.3 399.3 0 0 1 892.99 429.29L873.99 432.71A380 380 0 0 0 859.08 375.66Z" fill="#fdb47c" stroke="#808080" stroke-width="0.9"/><path d="M902.64 441.98A406.8 406.8 0 0 1 905.94 526.46L897.96 525.94A398.8 398.8 0 0 0 894.72 443.12Z" fill="#777"/><path d="M895.22 443.05A399.3 399.3 0 0 1 898.45 525.98L879.2 524.72A380 380 0 0 0 876.11 445.8Z" fill="#b5b5b5" stroke="#808080" stroke-width="0.9"/><path d="M904.86 539.7A406.8 406.8 0 0 1 893.66 602.54L885.92 600.53A398.8 398.8 0 0 0 896.9 538.92Z" fill="#777"/><path d="M897.39 538.96A399.3 399.3 0 0 1 886.41 600.65L867.73 595.79A380 380 0 0 0 878.19 537.08Z" fill="#6a9ecf" stroke="#808080" stroke-width="0.9"/><path d="M890.05 615.54A406.8 406.8 0 0 1 870.9 667.08L863.61 663.79A398.8 398.8 0 0 0 882.38 613.27Z" fill="#777"/><path d="M882.86 613.41A399.3 399.3 0 0 1 864.07 664L846.47 656.07A380 380 0 0 0 864.35 607.93Z" fill="#e8df52" stroke="#808080" stroke-width="0.9"/><path d="M865.47 678.65A406.8 406.8 0 0 1 829.27 738.88L822.8 734.18A398.8 398.8 0 0 0 858.29 675.14Z" fill="#777"/><path d="M858.74 675.35A399.3 399.3 0 0 1 823.2 734.48L807.58 723.14A380 380 0 0 0 841.4 666.88Z" fill="#6cae7c" stroke="#808080" stroke-width="0.9"/><path d="M820.56 750.45A406.8 406.8 0 0 1 812.08 760.94L805.95 755.81A398.8 398.8 0 0 0 814.26 745.53Z" fill="#777"/><path d="M814.65 745.83A399.3 399.3 0 0 1 806.33 756.13L791.52 743.75A380 380 0 0 0 799.44 733.95Z" fill="#9d89c3" stroke="#808080" stroke-width="0.9"/><path d="M803.97 770.35A406.8 406.8 0 0 1 595.66 895.39L593.77 887.62A398.8 398.8 0 0 0 797.99 765.03Z" fill="#777"/><path d="M798.36 765.37A399.3 399.3 0 0 1 593.89 888.1L589.35 869.35A380 380 0 0 0 783.94 752.54Z" fill="#e48353" stroke="#808080" stroke-width="0.9"/><path d="M584.16 898A406.8 406.8 0 0 1 371.59 886L374.12 878.41A398.8 398.8 0 0 0 582.51 890.17Z" fill="#777"/><path d="M582.61 890.66A399.3 399.3 0 0 1 373.96 878.89L380.05 860.57A380 380 0 0 0 578.62 871.78Z" fill="#8b8b8b" stroke="#808080" stroke-width="0.9"/><path d="M359.73 881.85A406.8 406.8 0 0 1 300.67 854.62L304.59 847.64A398.8 398.8 0 0 0 362.49 874.34Z" fill="#777"/><path d="M362.32 874.81A399.3 399.3 0 0 1 304.35 848.08L313.8 831.26A380 380 0 0 0 368.97 856.7Z" fill="#fc9a85" stroke="#808080" stroke-width="0.9"/><path d="M289.15 847.89A406.8 406.8 0 0 1 262.38 830.19L267.06 823.7A398.8 398.8 0 0 0 293.29 841.05Z" fill="#777"/><path d="M293.03 841.47A399.3 399.3 0 0 1 266.77 824.1L278.04 808.44A380 380 0 0 0 303.04 824.97Z" fill="#9dcae3" stroke="#808080" stroke-width="0.9"/><path d="M252.92 823.17A406.8 406.8 0 0 1 122.95 652.72L130.37 649.72A398.8 398.8 0 0 0 257.78 816.81Z" fill="#777"/><path d="M257.47 817.21A399.3 399.3 0 0 1 129.91 649.9L147.79 642.66A380 380 0 0 0 269.2 801.88Z" fill="#fff48c" stroke="#808080" stroke-width="0.9"/><path d="M118.54 641.33A406.8 406.8 0 0 1 98.99 568.4L106.88 567.06A398.8 398.8 0 0 0 126.04 638.55Z" fill="#777"/><path d="M125.57 638.73A399.3 399.3 0 0 1 106.39 567.14L125.41 563.9A380 380 0 0 0 143.67 632.02Z" fill="#a3d89e" stroke="#808080" stroke-width="0.9"/><path d="M97.02 555.63A406.8 406.8 0 0 1 94.4 531.21L102.38 530.6A398.8 398.8 0 0 0 104.95 554.54Z" fill="#777"/><path d="M104.45 554.61A399.3 399.3 0 0 1 101.88 530.63L121.12 529.15A380 380 0 0 0 123.57 551.97Z" fill="#bcbbdc" stroke="#808080" stroke-width="0.9"/><path d="M93.68 519.66A406.8 406.8 0 0 1 94.15 472.26L102.13 472.81A398.8 398.8 0 0 0 101.67 519.27Z" fill="#777"/><path d="M101.17 519.3A399.3 399.3 0 0 1 101.63 472.77L120.88 474.09A380 380 0 0 0 120.44 518.36Z" fill="#fdb47c" stroke="#808080" stroke-width="0.9"/><path d="M95.24 459.31A406.8 406.8 0 0 1 112.57 375.98L120.18 378.42A398.8 398.8 0 0 0 103.2 460.11Z" fill="#777"/><path d="M102.7 460.06A399.3 399.3 0 0 1 119.71 378.27L138.09 384.15A380 380 0 0 0 121.91 461.99Z" fill="#fc9a85" stroke="#808080" stroke-width="0.9"/><path d="M116.82 363.4A406.8 406.8 0 0 1 173.24 257.68L179.67 262.45A398.8 398.8 0 0 0 124.35 366.09Z" fill="#777"/><path d="M123.88 365.92A399.3 399.3 0 0 1 179.27 262.15L194.77 273.65A380 380 0 0 0 142.06 372.4Z" fill="#b5b5b5" stroke="#808080" stroke-width="0.9"/><path d="M180.89 247.71A406.8 406.8 0 0 1 218.18 206.63L223.72 212.4A398.8 398.8 0 0 0 187.16 252.67Z" fill="#777"/><path d="M186.77 252.36A399.3 399.3 0 0 1 223.38 212.04L236.75 225.96A380 380 0 0 0 201.91 264.33Z" fill="#9dcae3" stroke="#808080" stroke-width="0.9"/><path d="M227.43 198.02A406.8 406.8 0 0 1 488.14 93.37L488.38 101.37A398.8 398.8 0 0 0 232.79 203.96Z" fill="#777"/><path d="M232.45 203.59A399.3 399.3 0 0 1 488.36 100.87L488.93 120.16A380 380 0 0 0 245.39 217.92Z" fill="#fff48c" stroke="#808080" stroke-width="0.9"/></g>
<path d="M524.54 100.75L525.52 84.78M535.86 101.61L537.3 85.68M547.16 102.79L549.05 86.9M558.42 104.29L560.76 88.46M569.63 106.11L572.42 90.35M580.79 108.24L584.02 92.57M591.88 110.69L595.55 95.12M602.89 113.46L607.01 98M613.83 116.54L618.38 101.2M624.67 119.92L629.66 104.72M635.41 123.62L640.83 108.56M646.04 127.61L651.88 112.72M656.56 131.91L662.82 117.19M666.94 136.5L673.62 121.96M677.2 141.39L684.29 127.05M687.31 146.57L694.8 132.43M697.27 152.03L705.16 138.11M707.07 157.77L715.35 144.08M716.7 163.78L725.37 150.34M726.16 170.07L735.21 156.88M735.44 176.63L744.85 163.69M744.52 183.44L754.3 170.78M753.41 190.51L763.55 178.13M762.1 197.83L772.58 185.75M770.57 205.4L781.39 193.61M778.83 213.2L789.98 201.72M795.98 230.93L807.82 220.17M803.5 239.45L815.64 229.02M810.77 248.17L823.21 238.1M817.8 257.09L830.51 247.38M824.57 266.22L837.55 256.86M831.08 275.52L844.32 266.55M837.32 285.02L850.81 276.42M852.78 311.45L866.89 303.91M857.99 321.55L872.31 314.41M862.91 331.78L877.43 325.05M867.54 342.15L882.24 335.84M871.87 352.65L886.75 346.76M881.4 379.43L896.65 374.61M884.67 390.31L900.05 385.92M887.63 401.27L903.13 397.33M890.27 412.32L905.88 408.81M892.6 423.44L908.31 420.37M897.27 453.31L913.16 451.44M898.43 464.61L914.37 463.19M899.28 475.94L915.25 474.97M899.8 487.28L915.79 486.77M900 498.64L916 498.58M899.88 510L915.87 510.4M899.43 521.35L915.41 522.2M896.89 549.77L912.77 551.76M895.32 561.01L911.13 563.46M893.43 572.21L909.16 575.1M891.22 583.36L906.87 586.69M888.69 594.43L904.24 598.21M880.36 623.79L895.58 628.74M876.7 634.54L891.76 639.92M872.72 645.18L887.63 650.98M868.45 655.7L883.19 661.93M854.23 685.79L868.4 693.23M848.81 695.78L862.77 703.61M843.11 705.6L856.84 713.83M837.14 715.26L850.62 723.87M830.89 724.75L844.13 733.74M824.38 734.05L837.35 743.41M808.8 754.25L821.15 764.42M791.98 773.4L803.66 784.33M784.1 781.58L795.47 792.84M775.99 789.53L787.03 801.11M767.66 797.25L778.37 809.14M759.12 804.73L769.48 816.92M750.36 811.96L760.37 824.44M741.4 818.95L751.06 831.7M732.25 825.67L741.54 838.7M722.91 832.13L731.82 845.42M713.39 838.33L721.92 851.86M703.69 844.25L711.84 858.02M693.84 849.9L701.59 863.89M683.83 855.26L691.18 869.47M673.66 860.33L680.61 874.75M663.36 865.12L669.9 879.72M652.93 869.61L659.05 884.39M642.38 873.8L648.07 888.76M631.7 877.7L636.97 892.8M620.93 881.28L625.77 896.53M610.05 884.56L614.46 899.94M599.09 887.53L603.05 903.03M571.4 893.58L574.26 909.32M560.2 895.44L562.61 911.26M548.95 896.99L550.91 912.87M537.66 898.22L539.16 914.15M526.34 899.13L527.39 915.1M514.99 899.72L515.59 915.71M503.64 899.98L503.78 915.98M492.28 899.93L491.97 915.92M480.93 899.55L480.16 915.53M469.59 898.84L468.37 914.8M458.28 897.82L456.61 913.73M447 896.47L444.88 912.33M435.76 894.81L433.2 910.6M424.58 892.83L421.56 908.54M413.46 890.53L410 906.15M402.41 887.91L398.5 903.43M391.43 884.98L387.09 900.38M380.54 881.75L375.77 897.02M351.8 871.53L345.87 886.39M341.31 867.17L334.96 881.86M330.95 862.52L324.18 877.02M320.72 857.57L313.55 871.88M310.64 852.34L303.07 866.43M283.51 836.35L274.85 849.81M274.05 830.07L265.01 843.27M248.18 810.78L238.11 823.22M239.46 803.51L229.04 815.65M230.94 795.99L220.18 807.83M222.65 788.23L211.56 799.76M214.58 780.24L203.16 791.45M206.74 772.02L195.01 782.9M199.13 763.59L187.1 774.13M191.77 754.94L179.44 765.13M184.65 746.08L172.04 755.93M177.79 737.03L164.91 746.51M171.19 727.79L158.04 736.9M164.86 718.36L151.45 727.09M158.79 708.76L145.15 717.11M153 698.98L139.13 706.94M147.5 689.05L133.39 696.61M142.27 678.97L127.96 686.12M137.33 668.74L122.83 675.49M132.69 658.37L118 664.71M121.19 628.46L106.04 633.6M117.7 617.66L102.4 622.36M114.51 606.75L99.09 611.02M111.63 595.77L96.1 599.6M109.07 584.7L93.43 588.09M106.82 573.57L91.1 576.51M102.38 543.57L86.47 545.31M101.3 532.26L85.36 533.55M100.07 507.56L84.07 507.86M100.02 496.2L84.02 496.05M100.29 484.85L84.3 484.24M100.88 473.5L84.91 472.44M103.15 449.89L87.28 447.88M104.73 438.64L88.92 436.19M106.64 427.44L90.9 424.54M108.85 416.3L93.21 412.95M111.39 405.23L95.84 401.44M114.24 394.24L98.81 390M117.39 383.33L102.09 378.66M126.46 356.93L111.52 351.21M130.67 346.39L115.9 340.24M135.18 335.96L120.59 329.4M139.99 325.67L125.59 318.7M145.08 315.52L130.89 308.14M150.46 305.51L136.48 297.74M156.13 295.67L142.37 287.5M162.07 285.99L148.55 277.43M168.28 276.48L155.01 267.54M174.76 267.15L161.75 257.84M192.99 243.6L180.71 233.34M200.39 234.98L188.41 224.38M208.04 226.58L196.36 215.65M215.92 218.4L204.55 207.14M238.88 196.99L228.44 184.87M247.59 189.7L237.49 177.28M256.5 182.65L246.76 169.96M265.61 175.87L256.23 162.9M274.91 169.34L265.9 156.12M284.39 163.09L275.76 149.61M294.04 157.1L285.8 143.38M303.86 151.39L296.01 137.45M313.83 145.96L306.39 131.8M323.96 140.82L316.92 126.45M334.23 135.97L327.6 121.4M344.63 131.41L338.42 116.66M355.16 127.14L349.37 112.23M365.81 123.18L360.44 108.11M376.56 119.52L371.62 104.3M387.41 116.17L382.91 100.82M398.36 113.13L394.29 97.66M409.38 110.4L405.76 94.82M420.48 107.98L417.3 92.3M431.64 105.88L428.91 90.12M442.86 104.1L440.57 88.27M454.12 102.64L452.29 86.75M465.42 101.5L464.04 85.56M476.75 100.68L475.82 84.7" stroke="#000" stroke-width="1.6" fill="none"/>
<g font-size="17" fill="#000" stroke="#fff" stroke-width="0.2" transform="translate(0 -1.2)"><text transform="rotate(273.52 500 500)" x="920.8" y="506.12">100</text><text transform="rotate(275.14 500 500)" x="920.8" y="506.12">200</text><text transform="rotate(276.77 500 500)" x="920.8" y="506.12">300</text><text transform="rotate(278.4 500 500)" x="920.8" y="506.12">400</text><text transform="rotate(280.02 500 500)" x="920.8" y="506.12">500</text><text transform="rotate(281.65 500 500)" x="920.8" y="506.12">600</text><text transform="rotate(283.28 500 500)" x="920.8" y="506.12">700</text><text transform="rotate(284.91 500 500)" x="920.8" y="506.12">800</text><text transform="rotate(286.53 500 500)" x="920.8" y="506.12">900</text><text transform="rotate(288.16 500 500)" x="920.8" y="506.12">1000</text><text transform="rotate(289.79 500 500)" x="920.8" y="506.12">1100</text><text transform="rotate(291.41 500 500)" x="920.8" y="506.12">1200</text><text transform="rotate(293.04 500 500)" x="920.8" y="506.12">1300</text><text transform="rotate(294.67 500 500)" x="920.8" y="506.12">1400</text><text transform="rotate(296.29 500 500)" x="920.8" y="506.12">1500</text><text transform="rotate(297.92 500 500)" x="920.8" y="506.12">1600</text><text transform="rotate(299.55 500 500)" x="920.8" y="506.12">1700</text><text transform="rotate(301.18 500 500)" x="920.8" y="506.12">1800</text><text transform="rotate(302.8 500 500)" x="920.8" y="506.12">1900</text><text transform="rotate(304.43 500 500)" x="920.8" y="506.12">2000</text><text transform="rotate(306.06 500 500)" x="920.8" y="506.12">2100</text><text transform="rotate(307.68 500 500)" x="920.8" y="506.12">2200</text><text transform="rotate(309.31 500 500)" x="920.8" y="506.12">2300</text><text transform="rotate(310.94 500 500)" x="920.8" y="506.12">2400</text><text transform="rotate(312.56 500 500)" x="920.8" y="506.12">2500</text><text transform="rotate(314.19 500 500)" x="920.8" y="506.12">2600</text><text transform="rotate(317.73 500 500)" x="920.8" y="506.12">100</text><text transform="rotate(319.35 500 500)" x="920.8" y="506.12">200</text><text transform="rotate(320.98 500 500)" x="920.8" y="506.12">300</text><text transform="rotate(322.61 500 500)" x="920.8" y="506.12">400</text><text transform="rotate(324.24 500 500)" x="920.8" y="506.12">500</text><text transform="rotate(325.86 500 500)" x="920.8" y="506.12">600</text><text transform="rotate(327.49 500 500)" x="920.8" y="506.12">700</text><text transform="rotate(331.88 500 500)" x="920.8" y="506.12">100</text><text transform="rotate(333.5 500 500)" x="920.8" y="506.12">200</text><text transform="rotate(335.13 500 500)" x="920.8" y="506.12">300</text><text transform="rotate(336.76 500 500)" x="920.8" y="506.12">400</text><text transform="rotate(338.38 500 500)" x="920.8" y="506.12">500</text><text transform="rotate(342.46 500 500)" x="920.8" y="506.12">100</text><text transform="rotate(344.08 500 500)" x="920.8" y="506.12">200</text><text transform="rotate(345.71 500 500)" x="920.8" y="506.12">300</text><text transform="rotate(347.34 500 500)" x="920.8" y="506.12">400</text><text transform="rotate(348.96 500 500)" x="920.8" y="506.12">500</text><text transform="rotate(353.3 500 500)" x="920.8" y="506.12">100</text><text transform="rotate(354.92 500 500)" x="920.8" y="506.12">200</text><text transform="rotate(356.55 500 500)" x="920.8" y="506.12">300</text><text transform="rotate(358.18 500 500)" x="920.8" y="506.12">400</text><text transform="rotate(359.81 500 500)" x="920.8" y="506.12">500</text><text transform="rotate(1.43 500 500)" x="920.8" y="506.12">600</text><text transform="rotate(3.06 500 500)" x="920.8" y="506.12">700</text><text transform="rotate(7.15 500 500)" x="920.8" y="506.12">100</text><text transform="rotate(8.77 500 500)" x="920.8" y="506.12">200</text><text transform="rotate(10.4 500 500)" x="920.8" y="506.12">300</text><text transform="rotate(12.03 500 500)" x="920.8" y="506.12">400</text><text transform="rotate(13.65 500 500)" x="920.8" y="506.12">500</text><text transform="rotate(18.03 500 500)" x="920.8" y="506.12">100</text><text transform="rotate(19.65 500 500)" x="920.8" y="506.12">200</text><text transform="rotate(21.28 500 500)" x="920.8" y="506.12">300</text><text transform="rotate(22.91 500 500)" x="920.8" y="506.12">400</text><text transform="rotate(27.68 500 500)" x="920.8" y="506.12">100</text><text transform="rotate(29.3 500 500)" x="920.8" y="506.12">200</text><text transform="rotate(30.93 500 500)" x="920.8" y="506.12">300</text><text transform="rotate(32.56 500 500)" x="920.8" y="506.12">400</text><text transform="rotate(34.19 500 500)" x="920.8" y="506.12">500</text><text transform="rotate(35.81 500 500)" x="920.8" y="506.12">600</text><text transform="rotate(39.47 500 500)" x="920.8" y="506.12">100</text><text transform="rotate(43.12 500 500)" x="920.8" y="506.12">100</text><text transform="rotate(44.74 500 500)" x="920.8" y="506.12">200</text><text transform="rotate(46.37 500 500)" x="920.8" y="506.12">300</text><text transform="rotate(48 500 500)" x="920.8" y="506.12">400</text><text transform="rotate(49.62 500 500)" x="920.8" y="506.12">500</text><text transform="rotate(51.25 500 500)" x="920.8" y="506.12">600</text><text transform="rotate(52.88 500 500)" x="920.8" y="506.12">700</text><text transform="rotate(54.51 500 500)" x="920.8" y="506.12">800</text><text transform="rotate(56.13 500 500)" x="920.8" y="506.12">900</text><text transform="rotate(57.76 500 500)" x="920.8" y="506.12">1000</text><text transform="rotate(59.39 500 500)" x="920.8" y="506.12">1100</text><text transform="rotate(61.01 500 500)" x="920.8" y="506.12">1200</text><text transform="rotate(62.64 500 500)" x="920.8" y="506.12">1300</text><text transform="rotate(64.27 500 500)" x="920.8" y="506.12">1400</text><text transform="rotate(65.89 500 500)" x="920.8" y="506.12">1500</text><text transform="rotate(67.52 500 500)" x="920.8" y="506.12">1600</text><text transform="rotate(69.15 500 500)" x="920.8" y="506.12">1700</text><text transform="rotate(70.78 500 500)" x="920.8" y="506.12">1800</text><text transform="rotate(72.4 500 500)" x="920.8" y="506.12">1900</text><text transform="rotate(74.03 500 500)" x="920.8" y="506.12">2000</text><text transform="rotate(75.66 500 500)" x="920.8" y="506.12">2100</text><text transform="rotate(79.72 500 500)" x="920.8" y="506.12">100</text><text transform="rotate(81.34 500 500)" x="920.8" y="506.12">200</text><text transform="rotate(82.97 500 500)" x="920.8" y="506.12">300</text><text transform="rotate(84.6 500 500)" x="920.8" y="506.12">400</text><text transform="rotate(86.22 500 500)" x="920.8" y="506.12">500</text><text transform="rotate(87.85 500 500)" x="920.8" y="506.12">600</text><text transform="rotate(89.48 500 500)" x="920.8" y="506.12">700</text><text transform="rotate(-88.89 500 500)" x="79.2" y="506.12" text-anchor="end">800</text><text transform="rotate(-87.27 500 500)" x="79.2" y="506.12" text-anchor="end">900</text><text transform="rotate(-85.64 500 500)" x="79.2" y="506.12" text-anchor="end">1000</text><text transform="rotate(-84.01 500 500)" x="79.2" y="506.12" text-anchor="end">1100</text><text transform="rotate(-82.39 500 500)" x="79.2" y="506.12" text-anchor="end">1200</text><text transform="rotate(-80.76 500 500)" x="79.2" y="506.12" text-anchor="end">1300</text><text transform="rotate(-79.13 500 500)" x="79.2" y="506.12" text-anchor="end">1400</text><text transform="rotate(-77.5 500 500)" x="79.2" y="506.12" text-anchor="end">1500</text><text transform="rotate(-75.88 500 500)" x="79.2" y="506.12" text-anchor="end">1600</text><text transform="rotate(-74.25 500 500)" x="79.2" y="506.12" text-anchor="end">1700</text><text transform="rotate(-72.62 500 500)" x="79.2" y="506.12" text-anchor="end">1800</text><text transform="rotate(-68.25 500 500)" x="79.2" y="506.12" text-anchor="end">100</text><text transform="rotate(-66.63 500 500)" x="79.2" y="506.12" text-anchor="end">200</text><text transform="rotate(-65 500 500)" x="79.2" y="506.12" text-anchor="end">300</text><text transform="rotate(-63.37 500 500)" x="79.2" y="506.12" text-anchor="end">400</text><text transform="rotate(-61.75 500 500)" x="79.2" y="506.12" text-anchor="end">500</text><text transform="rotate(-57.23 500 500)" x="79.2" y="506.12" text-anchor="end">100</text><text transform="rotate(-55.61 500 500)" x="79.2" y="506.12" text-anchor="end">200</text><text transform="rotate(-50.98 500 500)" x="79.2" y="506.12" text-anchor="end">100</text><text transform="rotate(-49.36 500 500)" x="79.2" y="506.12" text-anchor="end">200</text><text transform="rotate(-47.73 500 500)" x="79.2" y="506.12" text-anchor="end">300</text><text transform="rotate(-46.1 500 500)" x="79.2" y="506.12" text-anchor="end">400</text><text transform="rotate(-44.48 500 500)" x="79.2" y="506.12" text-anchor="end">500</text><text transform="rotate(-42.85 500 500)" x="79.2" y="506.12" text-anchor="end">600</text><text transform="rotate(-41.22 500 500)" x="79.2" y="506.12" text-anchor="end">700</text><text transform="rotate(-39.59 500 500)" x="79.2" y="506.12" text-anchor="end">800</text><text transform="rotate(-37.97 500 500)" x="79.2" y="506.12" text-anchor="end">900</text><text transform="rotate(-36.34 500 500)" x="79.2" y="506.12" text-anchor="end">1000</text><text transform="rotate(-34.71 500 500)" x="79.2" y="506.12" text-anchor="end">1100</text><text transform="rotate(-33.09 500 500)" x="79.2" y="506.12" text-anchor="end">1200</text><text transform="rotate(-31.46 500 500)" x="79.2" y="506.12" text-anchor="end">1300</text><text transform="rotate(-29.83 500 500)" x="79.2" y="506.12" text-anchor="end">1400</text><text transform="rotate(-28.21 500 500)" x="79.2" y="506.12" text-anchor="end">1500</text><text transform="rotate(-26.58 500 500)" x="79.2" y="506.12" text-anchor="end">1600</text><text transform="rotate(-24.95 500 500)" x="79.2" y="506.12" text-anchor="end">1700</text><text transform="rotate(-23.32 500 500)" x="79.2" y="506.12" text-anchor="end">1800</text><text transform="rotate(-18.73 500 500)" x="79.2" y="506.12" text-anchor="end">100</text><text transform="rotate(-17.11 500 500)" x="79.2" y="506.12" text-anchor="end">200</text><text transform="rotate(-15.48 500 500)" x="79.2" y="506.12" text-anchor="end">300</text><text transform="rotate(-13.85 500 500)" x="79.2" y="506.12" text-anchor="end">400</text><text transform="rotate(-12.23 500 500)" x="79.2" y="506.12" text-anchor="end">500</text><text transform="rotate(-10.6 500 500)" x="79.2" y="506.12" text-anchor="end">600</text><text transform="rotate(-6.25 500 500)" x="79.2" y="506.12" text-anchor="end">100</text><text transform="rotate(-4.63 500 500)" x="79.2" y="506.12" text-anchor="end">200</text><text transform="rotate(-1.08 500 500)" x="79.2" y="506.12" text-anchor="end">100</text><text transform="rotate(0.54 500 500)" x="79.2" y="506.12" text-anchor="end">200</text><text transform="rotate(2.17 500 500)" x="79.2" y="506.12" text-anchor="end">300</text><text transform="rotate(3.8 500 500)" x="79.2" y="506.12" text-anchor="end">400</text><text transform="rotate(7.2 500 500)" x="79.2" y="506.12" text-anchor="end">100</text><text transform="rotate(8.82 500 500)" x="79.2" y="506.12" text-anchor="end">200</text><text transform="rotate(10.45 500 500)" x="79.2" y="506.12" text-anchor="end">300</text><text transform="rotate(12.08 500 500)" x="79.2" y="506.12" text-anchor="end">400</text><text transform="rotate(13.71 500 500)" x="79.2" y="506.12" text-anchor="end">500</text><text transform="rotate(15.33 500 500)" x="79.2" y="506.12" text-anchor="end">600</text><text transform="rotate(16.96 500 500)" x="79.2" y="506.12" text-anchor="end">700</text><text transform="rotate(20.96 500 500)" x="79.2" y="506.12" text-anchor="end">100</text><text transform="rotate(22.58 500 500)" x="79.2" y="506.12" text-anchor="end">200</text><text transform="rotate(24.21 500 500)" x="79.2" y="506.12" text-anchor="end">300</text><text transform="rotate(25.84 500 500)" x="79.2" y="506.12" text-anchor="end">400</text><text transform="rotate(27.47 500 500)" x="79.2" y="506.12" text-anchor="end">500</text><text transform="rotate(29.09 500 500)" x="79.2" y="506.12" text-anchor="end">600</text><text transform="rotate(30.72 500 500)" x="79.2" y="506.12" text-anchor="end">700</text><text transform="rotate(32.35 500 500)" x="79.2" y="506.12" text-anchor="end">800</text><text transform="rotate(33.97 500 500)" x="79.2" y="506.12" text-anchor="end">900</text><text transform="rotate(35.6 500 500)" x="79.2" y="506.12" text-anchor="end">1000</text><text transform="rotate(39.87 500 500)" x="79.2" y="506.12" text-anchor="end">100</text><text transform="rotate(41.49 500 500)" x="79.2" y="506.12" text-anchor="end">200</text><text transform="rotate(43.12 500 500)" x="79.2" y="506.12" text-anchor="end">300</text><text transform="rotate(44.75 500 500)" x="79.2" y="506.12" text-anchor="end">400</text><text transform="rotate(49.25 500 500)" x="79.2" y="506.12" text-anchor="end">100</text><text transform="rotate(50.87 500 500)" x="79.2" y="506.12" text-anchor="end">200</text><text transform="rotate(52.5 500 500)" x="79.2" y="506.12" text-anchor="end">300</text><text transform="rotate(54.13 500 500)" x="79.2" y="506.12" text-anchor="end">400</text><text transform="rotate(55.75 500 500)" x="79.2" y="506.12" text-anchor="end">500</text><text transform="rotate(57.38 500 500)" x="79.2" y="506.12" text-anchor="end">600</text><text transform="rotate(59.01 500 500)" x="79.2" y="506.12" text-anchor="end">700</text><text transform="rotate(60.64 500 500)" x="79.2" y="506.12" text-anchor="end">800</text><text transform="rotate(62.26 500 500)" x="79.2" y="506.12" text-anchor="end">900</text><text transform="rotate(63.89 500 500)" x="79.2" y="506.12" text-anchor="end">1000</text><text transform="rotate(65.52 500 500)" x="79.2" y="506.12" text-anchor="end">1100</text><text transform="rotate(67.14 500 500)" x="79.2" y="506.12" text-anchor="end">1200</text><text transform="rotate(68.77 500 500)" x="79.2" y="506.12" text-anchor="end">1300</text><text transform="rotate(70.4 500 500)" x="79.2" y="506.12" text-anchor="end">1400</text><text transform="rotate(72.02 500 500)" x="79.2" y="506.12" text-anchor="end">1500</text><text transform="rotate(73.65 500 500)" x="79.2" y="506.12" text-anchor="end">1600</text><text transform="rotate(75.28 500 500)" x="79.2" y="506.12" text-anchor="end">1700</text><text transform="rotate(76.91 500 500)" x="79.2" y="506.12" text-anchor="end">1800</text><text transform="rotate(78.53 500 500)" x="79.2" y="506.12" text-anchor="end">1900</text><text transform="rotate(80.16 500 500)" x="79.2" y="506.12" text-anchor="end">2000</text><text transform="rotate(81.79 500 500)" x="79.2" y="506.12" text-anchor="end">2100</text><text transform="rotate(83.41 500 500)" x="79.2" y="506.12" text-anchor="end">2200</text><text transform="rotate(85.04 500 500)" x="79.2" y="506.12" text-anchor="end">2300</text><text transform="rotate(86.67 500 500)" x="79.2" y="506.12" text-anchor="end">2400</text></g>
<g fill="#474747"><text transform="rotate(360.23 500 500)" x="498.2" y="39.8" font-size="10" text-anchor="middle">berenice_289</text><text transform="rotate(383.25 500 500)" x="498.2" y="43.7" font-size="10.9" text-anchor="middle">TcDm25_Chr30_H2_c1</text><text transform="rotate(412.4 500 500)" x="498.2" y="43.7" font-size="10.9" text-anchor="middle">TcDm25_Chr13_H2_c1</text><text transform="rotate(424.75 500 500)" x="498.2" y="43.7" font-size="10.9" text-anchor="middle">TcDm25_Chr01_H2_c1</text><text transform="rotate(435.35 500 500)" x="498.2" y="43.7" font-size="10.9" text-anchor="middle">TcDm25_Chr29_H1</text><text transform="rotate(447.76 500 500)" x="498.2" y="43.7" font-size="10.9" text-anchor="middle">TcDm25_Chr01_H1</text><text transform="rotate(-79.9 500 500)" x="498.2" y="964" font-size="10.9" text-anchor="middle">TcDm25_Chr12_H2_c1</text><text transform="rotate(-69.62 500 500)" x="498.2" y="964" font-size="10.9" text-anchor="middle">TcDm25_Chr22_H2_c1</text><text transform="rotate(-59 500 500)" x="498.2" y="964" font-size="10.9" text-anchor="middle">TcDm25_Chr27_H1</text><text transform="rotate(-51.05 500 500)" x="498.2" y="964" font-size="10.9" text-anchor="middle">TcDm25_Chr02_H2_c1</text><text transform="rotate(-30.98 500 500)" x="498.2" y="964" font-size="10.9" text-anchor="middle">TcDm25_Chr02_H1</text><text transform="rotate(3.23 500 500)" x="498.2" y="964" font-size="10.9" text-anchor="middle">TcDm25_Chr32_H1</text><text transform="rotate(24.75 500 500)" x="498.2" y="964" font-size="10.9" text-anchor="middle">TcDm25_Chr32_H2_c3</text><text transform="rotate(33.48 500 500)" x="498.2" y="964" font-size="10.9" text-anchor="middle">TcDm25_Chr28_H2_c1</text><text transform="rotate(52.68 500 500)" x="498.2" y="964" font-size="10.9" text-anchor="middle">TcDm25_Chr03_H1</text><text transform="rotate(75 500 500)" x="498.2" y="964" font-size="10.9" text-anchor="middle">TcDm25_Chr03_H2_c1</text><text transform="rotate(83.87 500 500)" x="498.2" y="964" font-size="10.9" text-anchor="middle">TcDm25_Chr04_H2_c1</text><text transform="rotate(270.57 500 500)" x="498.2" y="43.7" font-size="10.9" text-anchor="middle">TcDm25_Chr32_H2_c1</text><text transform="rotate(281.75 500 500)" x="498.2" y="43.7" font-size="10.9" text-anchor="middle">TcDm25_Chr09_H2_c5</text><text transform="rotate(298.09 500 500)" x="498.2" y="43.7" font-size="10.9" text-anchor="middle">TcDm25_Chr11_H1_c1</text><text transform="rotate(312.24 500 500)" x="498.2" y="43.7" font-size="10.9" text-anchor="middle">TcDm25_Chr11_H2_c3</text><text transform="rotate(338.13 500 500)" x="498.2" y="43.7" font-size="10.9" text-anchor="middle">TcDm25_Chr30_H1_c1</text></g>
</svg></body></html>
